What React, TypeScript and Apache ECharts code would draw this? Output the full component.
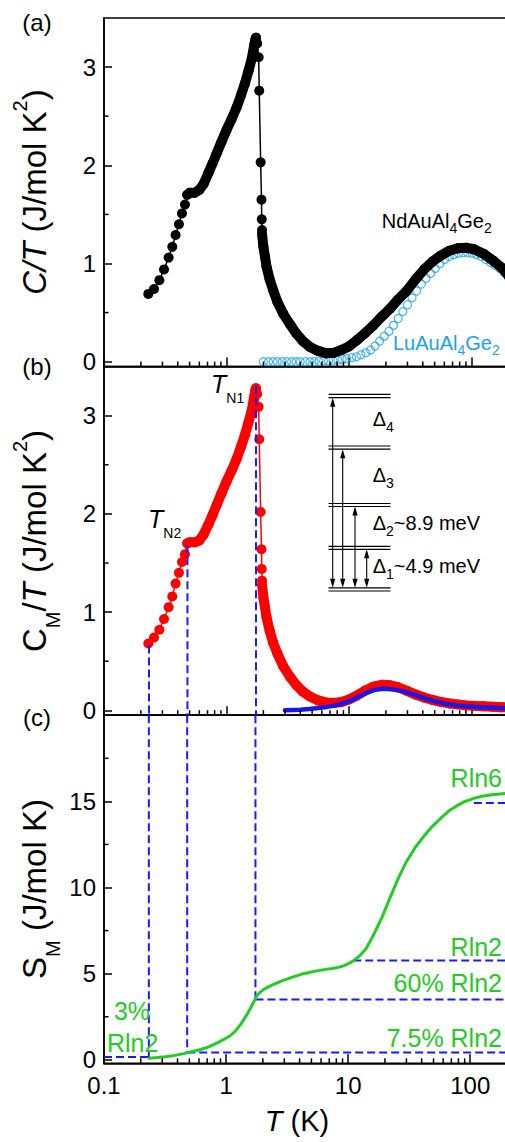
import React, { useEffect, useRef } from 'react';
import * as echarts from 'echarts';

const FONT = '"Liberation Sans", Arial, Helvetica, sans-serif';

// ---------------- axes ----------------
const xMajorTicks = [0.1, 1, 10, 100];
const xTickLabels = ['0.1', '1', '10', '100'];
const xMinorTicks = [0.2, 0.3, 0.4, 0.5, 0.6, 0.7, 0.8, 0.9, 2, 3, 4, 5, 6, 7, 8, 9, 20, 30, 40, 50, 60, 70, 80, 90, 200];
const yTicksAB = [0, 1, 2, 3];
const yMinorAB = [0.5, 1.5, 2.5];
const yTicksC = [0, 5, 10, 15];
const yMinorC = [2.5, 7.5, 12.5, 17.5];

// ---------------- panel (a): NdAuAl4Ge2 C/T ----------------
const ndLowT = [0.23, 0.256, 0.283, 0.309, 0.337, 0.361, 0.384, 0.409, 0.433, 0.458, 0.478];
const ndLowC = [0.69, 0.74, 0.83, 0.94, 1.06, 1.17, 1.29, 1.4, 1.51, 1.6, 1.7];
const ndRiseT = [0.478, 0.5, 0.55, 0.6, 0.65, 0.71, 0.77, 0.83, 0.91, 1.0, 1.1, 1.21, 1.31, 1.41, 1.51, 1.61, 1.68, 1.72, 1.74];
const ndRiseC = [1.7, 1.72, 1.72, 1.75, 1.81, 1.92, 2.02, 2.12, 2.24, 2.36, 2.47, 2.59, 2.71, 2.83, 2.96, 3.09, 3.22, 3.28, 3.3];
const ndDropT = [1.74, 1.78, 1.83, 1.85, 1.9, 1.93, 1.94, 1.95];
const ndDropC = [3.3, 3.24, 3.1, 2.76, 2.03, 1.65, 1.45, 1.34];
const tailT = [1.95, 2.0, 2.06, 2.12, 2.25, 2.4, 2.6, 2.9, 3.3, 3.7, 4.2, 4.8, 5.6, 6.5, 7.5, 8.7, 10, 11.6, 13.5, 15.8, 18.5, 21.6, 25, 29.5, 35, 41, 48, 56, 66, 77, 90, 105, 125, 150, 175, 200];
const ndTailC = [1.3, 1.17, 1.07, 0.97, 0.84, 0.73, 0.61, 0.49, 0.38, 0.29, 0.21, 0.15, 0.11, 0.085, 0.09, 0.12, 0.155, 0.22, 0.29, 0.37, 0.46, 0.54, 0.63, 0.72, 0.84, 0.94, 1.02, 1.08, 1.13, 1.155, 1.16, 1.145, 1.1, 1.03, 0.96, 0.88];

// LuAuAl4Ge2 C/T
const luT = [2.0, 2.2, 2.4, 2.6, 2.85, 3.1, 3.4, 3.7, 4.0, 4.4, 4.8, 5.2, 5.7, 6.2, 6.8, 7.4, 8.1, 8.8, 9.6, 10.5, 11.5, 12.5, 13.7, 15, 16.3, 17.8, 19.4, 21.2, 23.1, 25.2, 27.5, 30, 32.7, 35.7, 39, 42.5, 46.4, 50.6, 55.2, 60.2, 65.7, 71.7, 78.2, 85.3, 93, 101, 110, 120, 131, 143, 156, 170, 185, 200];
const luC = [0, 0, 0, 0, 0, 0, 0, 0, 0, 0, 0, 0, 0.005, 0.008, 0.01, 0.013, 0.017, 0.022, 0.03, 0.04, 0.05, 0.07, 0.09, 0.12, 0.16, 0.21, 0.26, 0.31, 0.37, 0.44, 0.51, 0.58, 0.65, 0.72, 0.79, 0.85, 0.9, 0.95, 1.0, 1.04, 1.07, 1.09, 1.105, 1.11, 1.11, 1.105, 1.09, 1.07, 1.04, 1.01, 0.98, 0.95, 0.91, 0.86];

// ---------------- panel (b): C_M/T ----------------
const cmLowC = [0.68, 0.74, 0.82, 0.93, 1.05, 1.16, 1.29, 1.4, 1.51, 1.59, 1.7];
const cmRiseC = [1.7, 1.71, 1.71, 1.73, 1.79, 1.89, 1.99, 2.09, 2.21, 2.33, 2.44, 2.56, 2.68, 2.8, 2.93, 3.06, 3.19, 3.26, 3.28];
const cmDropC = [3.28, 3.22, 3.09, 2.76, 2.02, 1.64, 1.44, 1.32];
const cmTailC = [1.28, 1.15, 1.05, 0.95, 0.81, 0.69, 0.58, 0.45, 0.34, 0.26, 0.19, 0.14, 0.1, 0.08, 0.075, 0.085, 0.11, 0.15, 0.2, 0.24, 0.26, 0.255, 0.235, 0.2, 0.16, 0.13, 0.105, 0.085, 0.07, 0.06, 0.05, 0.045, 0.04, 0.035, 0.03, 0.03];
const fitT = [3.0, 3.5, 4.0, 4.7, 5.4, 6.3, 7.4, 8.7, 10.2, 12, 14, 16.5, 19, 22, 26, 30, 35.6, 42, 49, 60, 75, 91, 120, 150, 200];
const fitC = [0, 0.002, 0.005, 0.012, 0.02, 0.03, 0.045, 0.065, 0.095, 0.14, 0.18, 0.21, 0.22, 0.215, 0.2, 0.18, 0.15, 0.12, 0.095, 0.07, 0.05, 0.04, 0.03, 0.025, 0.02];

// transition temperatures (dashed guides)
const tnT = [0.233, 0.48, 1.74];
const tnTopB = [0.66, 1.68, 3.3];
const tnBottomC = [0.17, 0.43, 3.5];

// ---------------- panel (c): S_M ----------------
const sT = [0.233, 0.27, 0.32, 0.38, 0.45, 0.53, 0.62, 0.72, 0.83, 0.95, 1.08, 1.2, 1.33, 1.46, 1.6, 1.74, 1.8, 1.9, 2.0, 2.2, 2.4, 2.9, 3.5, 4.3, 5.4, 6.5, 7.4, 8.5, 9.5, 10.8, 12.5, 14, 16, 19, 22, 26, 30, 35.6, 42, 49, 58, 67, 80, 91, 110, 125, 150, 175, 200];
const sS = [0.1, 0.13, 0.18, 0.26, 0.36, 0.48, 0.6, 0.75, 0.95, 1.17, 1.4, 1.7, 2.1, 2.55, 3.05, 3.55, 3.75, 3.92, 4.05, 4.22, 4.35, 4.6, 4.8, 5.0, 5.15, 5.25, 5.3, 5.38, 5.5, 5.7, 6.05, 6.45, 7.2, 8.3, 9.4, 10.6, 11.5, 12.35, 13.0, 13.55, 14.05, 14.45, 14.8, 15.0, 15.2, 15.3, 15.38, 15.43, 15.46];
// entropy reference levels: 3% Rln2, 7.5% Rln2, 60% Rln2, Rln2, Rln6
const sLevelVals = [0.17, 0.43, 3.5, 5.76, 14.9];
const sLevelStartT = [0.1, 0.48, 1.74, 11, 107];
const sLevelEndT = [0.233, 200, 200, 200, 200];

// ---------------- styling ----------------
const BLACK = '#000';
const RED = '#ff0000';
const LU_BLUE = '#17a3f0';
const FIT_BLUE = '#1818e6';
const DASH_BLUE = '#1a1aff';
const GREEN = '#22cc22';

const GRID_TOP = [18, 366.6, 715.2];
const GRID_H = [348.6, 348.6, 348.1];
const Y_RANGE = [[-0.05, 3.5], [-0.05, 3.5], [-0.2, 20]];

const pairs = (xs: number[], ys: number[]) => xs.map((x, i) => [x, ys[i]]);

function fmtX(v: number) {
  for (let k = 0; k < xMajorTicks.length; k++) {
    if (Math.abs(v - xMajorTicks[k]) / xMajorTicks[k] < 1e-6) return xTickLabels[k];
  }
  return '';
}

function minorXSeries(gi: number) {
  return {
    type: 'custom', xAxisIndex: gi, yAxisIndex: gi, silent: true, z: 20,
    data: xMinorTicks.map((t) => [t, Y_RANGE[gi][0]]),
    renderItem: (params: any, api: any) => {
      const cs = params.coordSys;
      const x = api.coord([api.value(0), api.value(1)])[0];
      const yb = cs.y + cs.height;
      return { type: 'line', shape: { x1: x, y1: yb, x2: x, y2: yb - 5 }, style: { stroke: BLACK, lineWidth: 1.5 } };
    },
  };
}

function minorYSeries(gi: number, vals: number[]) {
  return {
    type: 'custom', xAxisIndex: gi, yAxisIndex: gi, silent: true, z: 20,
    data: vals.map((v) => [0.1, v]),
    renderItem: (params: any, api: any) => {
      const cs = params.coordSys;
      const y = api.coord([api.value(0), api.value(1)])[1];
      return { type: 'line', shape: { x1: cs.x, y1: y, x2: cs.x + 4.5, y2: y }, style: { stroke: BLACK, lineWidth: 1.5 } };
    },
  };
}

function dashed(gi: number, pts: number[][]) {
  return {
    type: 'line', xAxisIndex: gi, yAxisIndex: gi, data: pts, symbol: 'none', showSymbol: false, silent: true, z: 8,
    lineStyle: { color: DASH_BLUE, width: 2, type: [8, 4] },
  };
}

function rtext(x: number, y: number, text: string, rich: any, align: string, rotation = 0, color = BLACK) {
  return {
    type: 'text', x, y, rotation, z: 100, silent: true,
    style: {
      text, rich, fill: color, fontFamily: FONT, fontSize: 20,
      textAlign: align, align, textVerticalAlign: 'middle', verticalAlign: 'middle',
    },
  };
}

function tok(fontSize: number, color: string, extra: any = {}) {
  return { fontSize, fontFamily: FONT, fill: color, ...extra };
}

function buildOption() {
  const grid = [0, 1, 2].map((i) => ({
    left: 104, right: 1.6, top: GRID_TOP[i], height: GRID_H[i],
    show: true, borderColor: BLACK, borderWidth: 1.5, backgroundColor: 'transparent',
  }));
  const axisLineStyle = { color: BLACK, width: 1.5 };
  const xAxis = [0, 1, 2].map((i) => ({
    type: 'log', logBase: 10, gridIndex: i, min: 0.1, max: 200, position: 'bottom',
    axisLine: { show: true, onZero: false, lineStyle: axisLineStyle },
    axisTick: { show: true, inside: true, length: 9, lineStyle: axisLineStyle },
    axisLabel: { show: i === 2, margin: 10, fontSize: 24, color: BLACK, fontFamily: FONT, formatter: fmtX },
    splitLine: { show: false },
  }));
  const yAxis = [0, 1, 2].map((i) => {
    const ticks = i === 2 ? yTicksC : yTicksAB;
    return {
      type: 'value', gridIndex: i, min: Y_RANGE[i][0], max: Y_RANGE[i][1], position: 'left',
      axisLine: { show: true, onZero: false, lineStyle: axisLineStyle },
      axisTick: { show: true, inside: true, length: 8, lineStyle: axisLineStyle, customValues: ticks },
      axisLabel: { margin: 8, fontSize: 24, color: BLACK, fontFamily: FONT, customValues: ticks },
      splitLine: { show: false },
    };
  });

  const ndAll = [
    ...pairs(ndLowT, ndLowC), ...pairs(ndRiseT, ndRiseC).slice(1), ...pairs(ndDropT, ndDropC).slice(1), ...pairs(tailT, ndTailC).slice(1),
  ];
  const cmAll = [
    ...pairs(ndLowT, cmLowC), ...pairs(ndRiseT, cmRiseC).slice(1), ...pairs(ndDropT, cmDropC).slice(1), ...pairs(tailT, cmTailC).slice(1),
  ];

  const band = (gi: number, data: number[][], color: string, z: number) => ({
    type: 'line', xAxisIndex: gi, yAxisIndex: gi, data, symbol: 'none', showSymbol: false, silent: true, z,
    lineStyle: { color, width: 10, cap: 'round', join: 'round' },
  });
  const dots = (gi: number, data: number[][], color: string, z: number) => ({
    type: 'line', xAxisIndex: gi, yAxisIndex: gi, data, symbol: 'circle', symbolSize: 10, showSymbol: true, silent: true, z,
    itemStyle: { color }, lineStyle: { color, width: 1.5 },
  });

  const series: any[] = [
    // (a)
    {
      type: 'scatter', xAxisIndex: 0, yAxisIndex: 0, data: pairs(luT, luC), symbol: 'circle', symbolSize: 8, silent: true, z: 2,
      itemStyle: { color: 'rgba(255,255,255,0)', borderColor: LU_BLUE, borderWidth: 1.2 },
    },
    band(0, pairs(ndRiseT, ndRiseC), BLACK, 3),
    band(0, pairs(tailT, ndTailC), BLACK, 3),
    dots(0, ndAll, BLACK, 4),
    // (b)
    band(1, pairs(ndRiseT, cmRiseC), RED, 3),
    band(1, pairs(tailT, cmTailC), RED, 3),
    dots(1, cmAll, RED, 4),
    {
      type: 'line', xAxisIndex: 1, yAxisIndex: 1, data: pairs(fitT, fitC), symbol: 'none', showSymbol: false, silent: true, z: 6,
      lineStyle: { color: FIT_BLUE, width: 4.5, cap: 'round', join: 'round' },
    },
    ...tnT.map((t, k) => dashed(1, [[t, tnTopB[k]], [t, Y_RANGE[1][0]]])),
    // (c)
    ...tnT.map((t, k) => dashed(2, [[t, Y_RANGE[2][1]], [t, tnBottomC[k]]])),
    ...sLevelVals.map((v, k) => dashed(2, [[sLevelStartT[k], v], [sLevelEndT[k], v]])),
    {
      type: 'line', xAxisIndex: 2, yAxisIndex: 2, data: pairs(sT, sS), symbol: 'none', showSymbol: false, silent: true, z: 9,
      lineStyle: { color: GREEN, width: 3, cap: 'round', join: 'round' },
    },
    // minor ticks
    minorXSeries(0), minorXSeries(1), minorXSeries(2),
    minorYSeries(0, yMinorAB), minorYSeries(1, yMinorAB), minorYSeries(2, yMinorC),
  ];

  // ---------- annotations ----------
  const titleRich = {
    n: tok(33, BLACK),
    i: tok(33, BLACK, { fontStyle: 'italic' }),
    p: tok(20, BLACK, { lineHeight: 20, padding: [0, 0, 28, 0] }),
    b: tok(20, BLACK, { lineHeight: 20, padding: [38, 0, 0, 0] }),
  };
  const chemRich = (c: string) => ({
    n: tok(20, c),
    s: tok(14, c, { lineHeight: 14, padding: [15, 0, 0, 0] }),
  });
  const tnRich = {
    i: tok(25, BLACK, { fontStyle: 'italic' }),
    s: tok(14, BLACK, { lineHeight: 14, padding: [27, 0, 0, 0] }),
  };
  const dRich = {
    d: tok(20, BLACK),
    s: tok(14, BLACK, { lineHeight: 14, padding: [16, 0, 0, 0] }),
  };
  const plain = (fs: number, c: string) => ({ n: tok(fs, c) });

  const graphic: any[] = [
    rtext(37, 22, '{n|(a)}', plain(24, BLACK), 'center'),
    rtext(37, 366, '{n|(b)}', plain(24, BLACK), 'center'),
    rtext(37, 717, '{n|(c)}', plain(24, BLACK), 'center'),
    rtext(34, 192, '{i|C/T}{n| (J/mol K}{p|2}{n|)}', titleRich, 'center', Math.PI / 2),
    rtext(34, 541, '{n|C}{b|M}{n|/}{i|T}{n| (J/mol K}{p|2}{n|)}', titleRich, 'center', Math.PI / 2),
    rtext(34, 889, '{n|S}{b|M}{n| (J/mol K)}', titleRich, 'center', Math.PI / 2),
    rtext(297, 1121, '{i|T}{n| (K)}', { i: tok(29, BLACK, { fontStyle: 'italic' }), n: tok(29, BLACK) }, 'center'),
    rtext(381.7, 220.5, '{n|NdAuAl}{s|4}{n|Ge}{s|2}', chemRich(BLACK), 'left'),
    rtext(393, 342.5, '{n|LuAuAl}{s|4}{n|Ge}{s|2}', chemRich(LU_BLUE), 'left'),
    rtext(211, 384, '{i|T}{s|N1}', tnRich, 'left'),
    rtext(148, 519, '{i|T}{s|N2}', tnRich, 'left'),
    rtext(372.7, 419, '{d|Δ}{s|4}', dRich, 'left'),
    rtext(372.7, 475, '{d|Δ}{s|3}', dRich, 'left'),
    rtext(372.7, 522.5, '{d|Δ}{s|2}{d|~8.9 meV}', dRich, 'left'),
    rtext(372.7, 566, '{d|Δ}{s|1}{d|~4.9 meV}', dRich, 'left'),
    rtext(502, 778, '{n|Rln6}', plain(25, GREEN), 'right'),
    rtext(502, 947, '{n|Rln2}', plain(25, GREEN), 'right'),
    rtext(502, 983, '{n|60% Rln2}', plain(25, GREEN), 'right'),
    rtext(502, 1037.5, '{n|7.5% Rln2}', plain(25, GREEN), 'right'),
    rtext(132, 1010.5, '{n|3%}', plain(25, GREEN), 'center'),
    rtext(107, 1042.5, '{n|Rln2}', plain(25, GREEN), 'left'),
  ];

  // CEF level scheme inset in (b)
  const levels = [[394.3, 397.7], [446, 449.2], [503.5, 506.5], [546.3, 549.3], [587.8, 591]];
  levels.forEach(([y1, y2]) => {
    [y1, y2].forEach((yy) => {
      graphic.push({ type: 'line', z: 100, silent: true, shape: { x1: 328.5, y1: yy, x2: 390.5, y2: yy }, style: { stroke: BLACK, lineWidth: 1.2 } });
    });
  });
  const arrows = [[332.7, 397.7], [342.7, 449.2], [355, 506.5], [366.7, 549.3]];
  const yBot = 587.8;
  arrows.forEach(([x, yT]) => {
    graphic.push({ type: 'line', z: 100, silent: true, shape: { x1: x, y1: yT + 3, x2: x, y2: yBot - 3 }, style: { stroke: BLACK, lineWidth: 1.1 } });
    graphic.push({ type: 'polygon', z: 100, silent: true, shape: { points: [[x, yT], [x - 2.6, yT + 9], [x + 2.6, yT + 9]] }, style: { fill: BLACK } });
    graphic.push({ type: 'polygon', z: 100, silent: true, shape: { points: [[x, yBot], [x - 2.6, yBot - 9], [x + 2.6, yBot - 9]] }, style: { fill: BLACK } });
  });

  return { animation: false, backgroundColor: '#fff', grid, xAxis, yAxis, series, graphic };
}

export default function App() {
  const ref = useRef<HTMLDivElement>(null);
  useEffect(() => {
    if (!ref.current) return;
    const chart = echarts.init(ref.current, null, { renderer: 'svg' });
    chart.setOption(buildOption() as any);
    return () => chart.dispose();
  }, []);
  return (
    <div style={{ position: 'absolute', left: 0, top: 0, width: 505, height: 1142, overflow: 'hidden', background: '#fff' }}>
      <div ref={ref} style={{ width: 510, height: 1142 }} />
    </div>
  );
}
